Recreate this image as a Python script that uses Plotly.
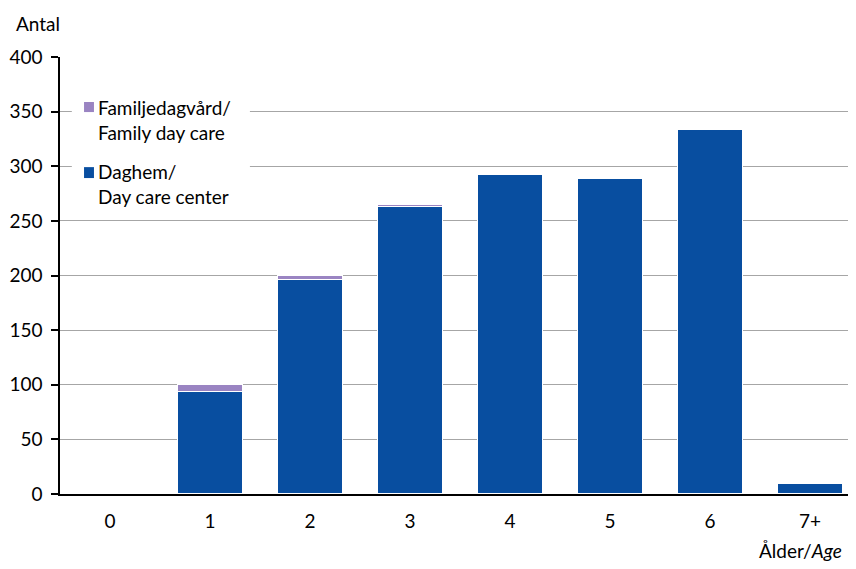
import plotly.graph_objects as go

ages = ["0", "1", "2", "3", "4", "5", "6", "7+"]
daghem = [0, 94, 196, 263, 293, 289, 334, 10]
familjedagvard = [0, 6, 4, 2, 0, 0, 0, 0]

blue = "#084ea0"
purple = "#9a84c2"
font = "Lato, Carlito, 'Open Sans', sans-serif"

fig = go.Figure()
fig.add_trace(go.Bar(
    x=ages, y=daghem, name="Daghem/<br>Day care center",
    marker=dict(color=blue, line=dict(color="white", width=1.2)),
))
fig.add_trace(go.Bar(
    x=ages, y=familjedagvard, name="Familjedagvård/<br>Family day care",
    marker=dict(color=purple, line=dict(color="white", width=1.2)),
))

# legend drawn by hand so that the square sits close to the text
shapes = [
    dict(type="rect", xref="paper", yref="paper", x0=0.015, x1=0.241, y0=0.645, y1=0.92,
         fillcolor="white", line=dict(width=0), layer="above"),
    dict(type="rect", xref="paper", yref="paper", x0=0.0305, x1=0.0431, y0=0.874, y1=0.897,
         fillcolor=purple, line=dict(width=0), layer="above"),
    dict(type="rect", xref="paper", yref="paper", x0=0.0305, x1=0.0431, y0=0.723, y1=0.748,
         fillcolor=blue, line=dict(width=0), layer="above"),
]

fig.update_layout(
    barmode="stack",
    bargap=0.35,
    showlegend=False,
    width=848, height=561,
    paper_bgcolor="white", plot_bgcolor="white",
    margin=dict(l=52, r=8, t=49, b=75, autoexpand=False),
    font=dict(family=font, size=19, color="black"),
    xaxis=dict(
        range=[-0.5, 7.38],
        showline=True, linecolor="black", linewidth=1.5, automargin=False,
        ticks="", ticklabelstandoff=9,
    ),
    yaxis=dict(
        range=[0, 400], dtick=50, automargin=False,
        showline=True, linecolor="black", linewidth=1.5,
        showgrid=True, gridcolor="#a6a6a6", gridwidth=1,
        ticks="outside", ticklen=7, tickcolor="black", tickwidth=1.5,
        ticklabelstandoff=5, zeroline=False,
    ),
    shapes=shapes,
    annotations=[
        dict(text="Familjedagvård/<br>Family day care", xref="paper", yref="paper",
             x=0.046, y=0.856, xanchor="left", yanchor="middle", align="left", showarrow=False),
        dict(text="Daghem/<br>Day care center", xref="paper", yref="paper",
             x=0.046, y=0.7105, xanchor="left", yanchor="middle", align="left", showarrow=False),
        dict(text="Antal", xref="paper", yref="paper", x=-0.058, y=1.076,
             xanchor="left", yanchor="middle", showarrow=False),
        dict(text="Ålder/<i>Age</i>", xref="paper", yref="paper", x=0.995, y=-0.13,
             xanchor="right", yanchor="middle", showarrow=False),
    ],
)

fig.write_html("out.html")
